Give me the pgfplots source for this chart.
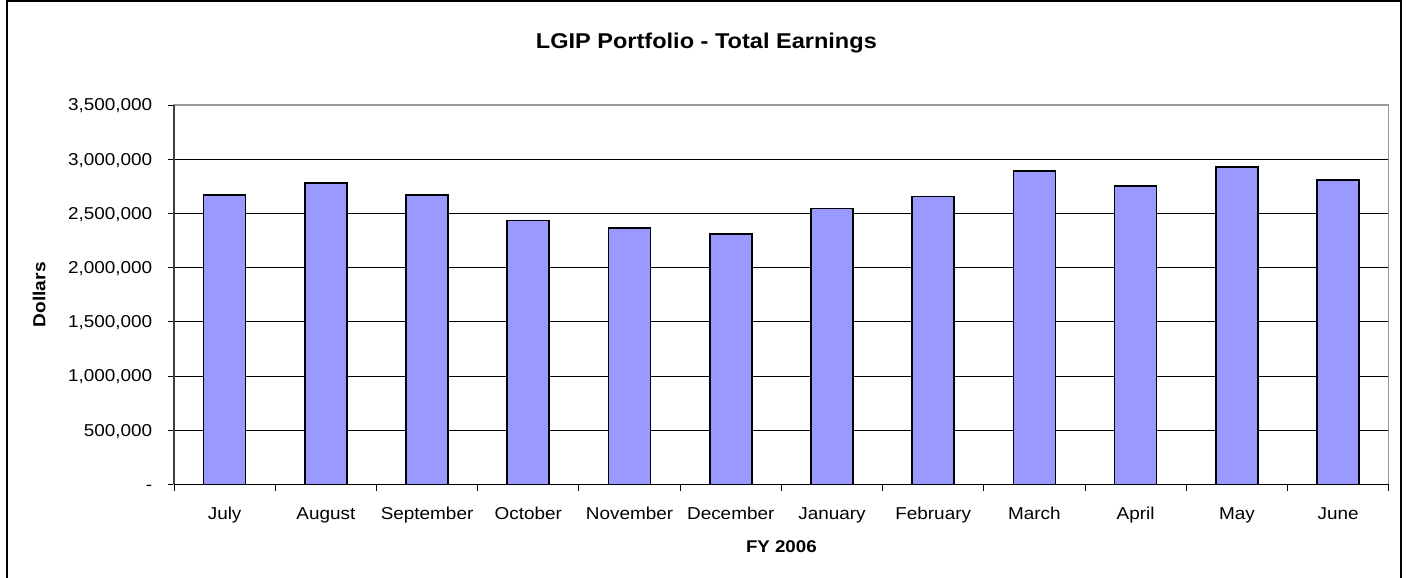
\documentclass[border=0pt]{standalone}
\usepackage{fontspec}
\setmainfont{Liberation Sans}[FakeStretch=1.1]
\usepackage{pgfplots}
\pgfplotsset{compat=1.18}
\definecolor{barblue}{HTML}{9999FF}

\begin{document}
\begin{tikzpicture}
\path[use as bounding box] (0,0) rectangle (704pt,289pt);
\draw[black,line width=1pt] (3.5pt,-5pt) rectangle (700.5pt,288.5pt);
\begin{axis}[
  at={(87pt,46.75pt)}, anchor=south west,
  scale only axis,
  width=607.35pt, height=189.75pt,
  ybar, bar width=21pt,
  xmin=-0.5, xmax=11.5,
  ymin=0, ymax=3500000,
  scaled y ticks=false,
  xtick={0,...,11},
  xticklabels={July,August,September,October,November,December,January,February,March,April,May,June},
  minor xtick={-0.5,0.5,...,11.5},
  ytick={0,500000,...,3500000},
  yticklabels={-,{500,000},{1,000,000},{1,500,000},{2,000,000},{2,500,000},{3,000,000},{3,500,000}},
  tick pos=left, tick align=outside,
  major tick length=3.2pt, minor tick length=3.2pt,
  xtick style={draw=none},
  minor x tick style={draw=black, line width=0.5pt},
  ytick style={draw=black, line width=0.5pt},
  ymajorgrids, grid style={black, line width=0.5pt},
  axis line style={draw=black!40, line width=0.7pt},
  xticklabel style={font=\fontsize{8.6}{10}\selectfont, anchor=base, yshift=-14.25pt},
  yticklabel style={font=\fontsize{8.6}{10}\selectfont, anchor=base east, inner sep=0pt, xshift=-7.5pt, yshift=-2.9pt},
  title={LGIP Portfolio - Total Earnings},
  title style={font=\bfseries\fontsize{10.7}{12}\selectfont, at={(0.5,1)}, anchor=base, yshift=22.4pt, xshift=-37.5pt},
  xlabel={FY 2006},
  xlabel style={font=\bfseries\fontsize{8.5}{10}\selectfont, at={(axis description cs:0.5,0)}, anchor=base, yshift=-34.25pt},
  ylabel={Dollars},
  ylabel style={font=\bfseries\fontsize{8.7}{10}\selectfont, at={(axis description cs:-0.1111,0.5)}, anchor=center},
  after end axis/.code={
    \draw[black!75,line width=0.8pt] (axis description cs:0,0) -- (axis description cs:0,1);
    \draw[black,line width=0.6pt] (axis description cs:0,0) -- (axis description cs:1,0);
  },
]
\addplot[fill=barblue, draw=black, line width=0.8pt] coordinates {
  (0,2668000) (1,2779000) (2,2668000) (3,2434000) (4,2366000) (5,2311000)
  (6,2544000) (7,2655000) (8,2892000) (9,2751000) (10,2929000) (11,2809000)
};
\end{axis}
\end{tikzpicture}
\end{document}
